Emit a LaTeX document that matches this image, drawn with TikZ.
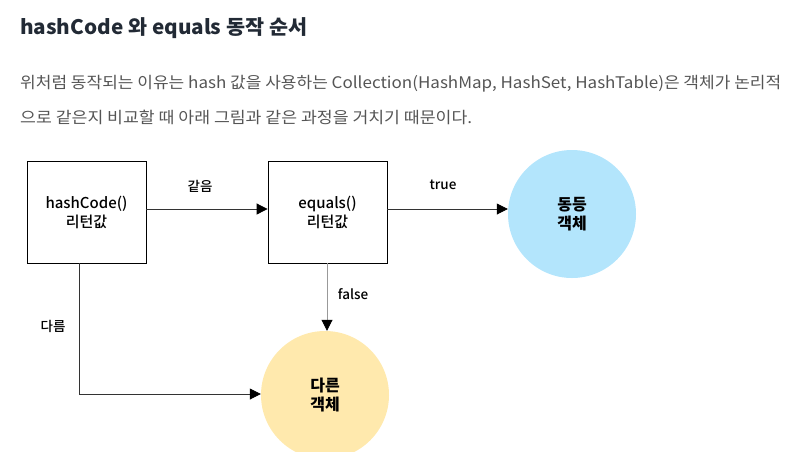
\documentclass[tikz,border=0pt]{standalone}
\usepackage{fontspec}
\usepackage{graphicx}
\setmainfont{Noto Sans CJK KR}
\newfontfamily\medfont{Noto Sans CJK KR Medium}
\usetikzlibrary{arrows.meta}
\definecolor{titlecol}{HTML}{222A35}
\definecolor{paracol}{HTML}{555555}
\definecolor{eqblue}{HTML}{B3E5FC}
\definecolor{neyellow}{HTML}{FFE9AD}
\definecolor{linecol}{HTML}{333333}
\definecolor{falsecol}{HTML}{999999}
\tikzset{
  box/.style={draw=black, line width=0.8pt, minimum width=119pt, minimum height=102pt, inner sep=0pt, align=center, font=\medfont\fontsize{15}{19}\selectfont},
  circ/.style={circle, minimum size=128pt, inner sep=0pt, align=center, font=\bfseries\fontsize{16}{19}\selectfont},
  conn/.style={draw=linecol, line width=0.8pt, -{Triangle[length=11pt,width=11pt,color=black]}},
  lbl/.style={font=\medfont\fontsize{13.5}{15}\selectfont, inner sep=0pt}
}
\begin{document}
\begin{tikzpicture}[x=1pt,y=-1pt]
\useasboundingbox (0,0) rectangle (789,451);
\node[anchor=west, text=titlecol, inner sep=0pt] (title) at (20,28)
  {\resizebox{287pt}{\height}{\bfseries\fontsize{20}{24}\selectfont hashCode 와 equals 동작 순서}};
\node[anchor=west, text=paracol, inner sep=0pt] (para1) at (20,84)
  {\resizebox{761pt}{\height}{\fontsize{16}{20}\selectfont 위처럼 동작되는 이유는 hash 값을 사용하는 Collection(HashMap, HashSet, HashTable)은 객체가 논리적}};
\node[anchor=west, text=paracol, inner sep=0pt] (para2) at (20,117)
  {\resizebox{452pt}{\height}{\fontsize{16}{20}\selectfont 으로 같은지 비교할 때 아래 그림과 같은 과정을 거치기 때문이다.}};

\node[box] (hc) at (86.5,212) {hashCode()\\리턴값};
\node[box] (eq) at (327.5,212) {equals()\\리턴값};
\node[circ, fill=eqblue] (same) at (572,214) {동등\\객체};
\node[circ, fill=neyellow] (diff) at (325,395) {다른\\객체};

\draw[conn] (hc.east |- 0,209) -- (eq.west |- 0,209);
\draw[conn] (eq.east |- 0,209) -- (same.west |- 0,209);
\draw[draw=falsecol, line width=0.8pt, -{Triangle[length=11pt,width=11pt,color=black]}] (eq.south -| 327,0) -- (diff.north -| 327,0);
\draw[conn] (hc.south -| 79,0) |- (diff.west |- 0,394);

\node[lbl] (l1) at (200,186) {같음};
\node[lbl] (l2) at (443,185) {true};
\node[lbl] (l3) at (353,294) {false};
\node[lbl] (l4) at (53,326) {다름};
\end{tikzpicture}
\end{document}
